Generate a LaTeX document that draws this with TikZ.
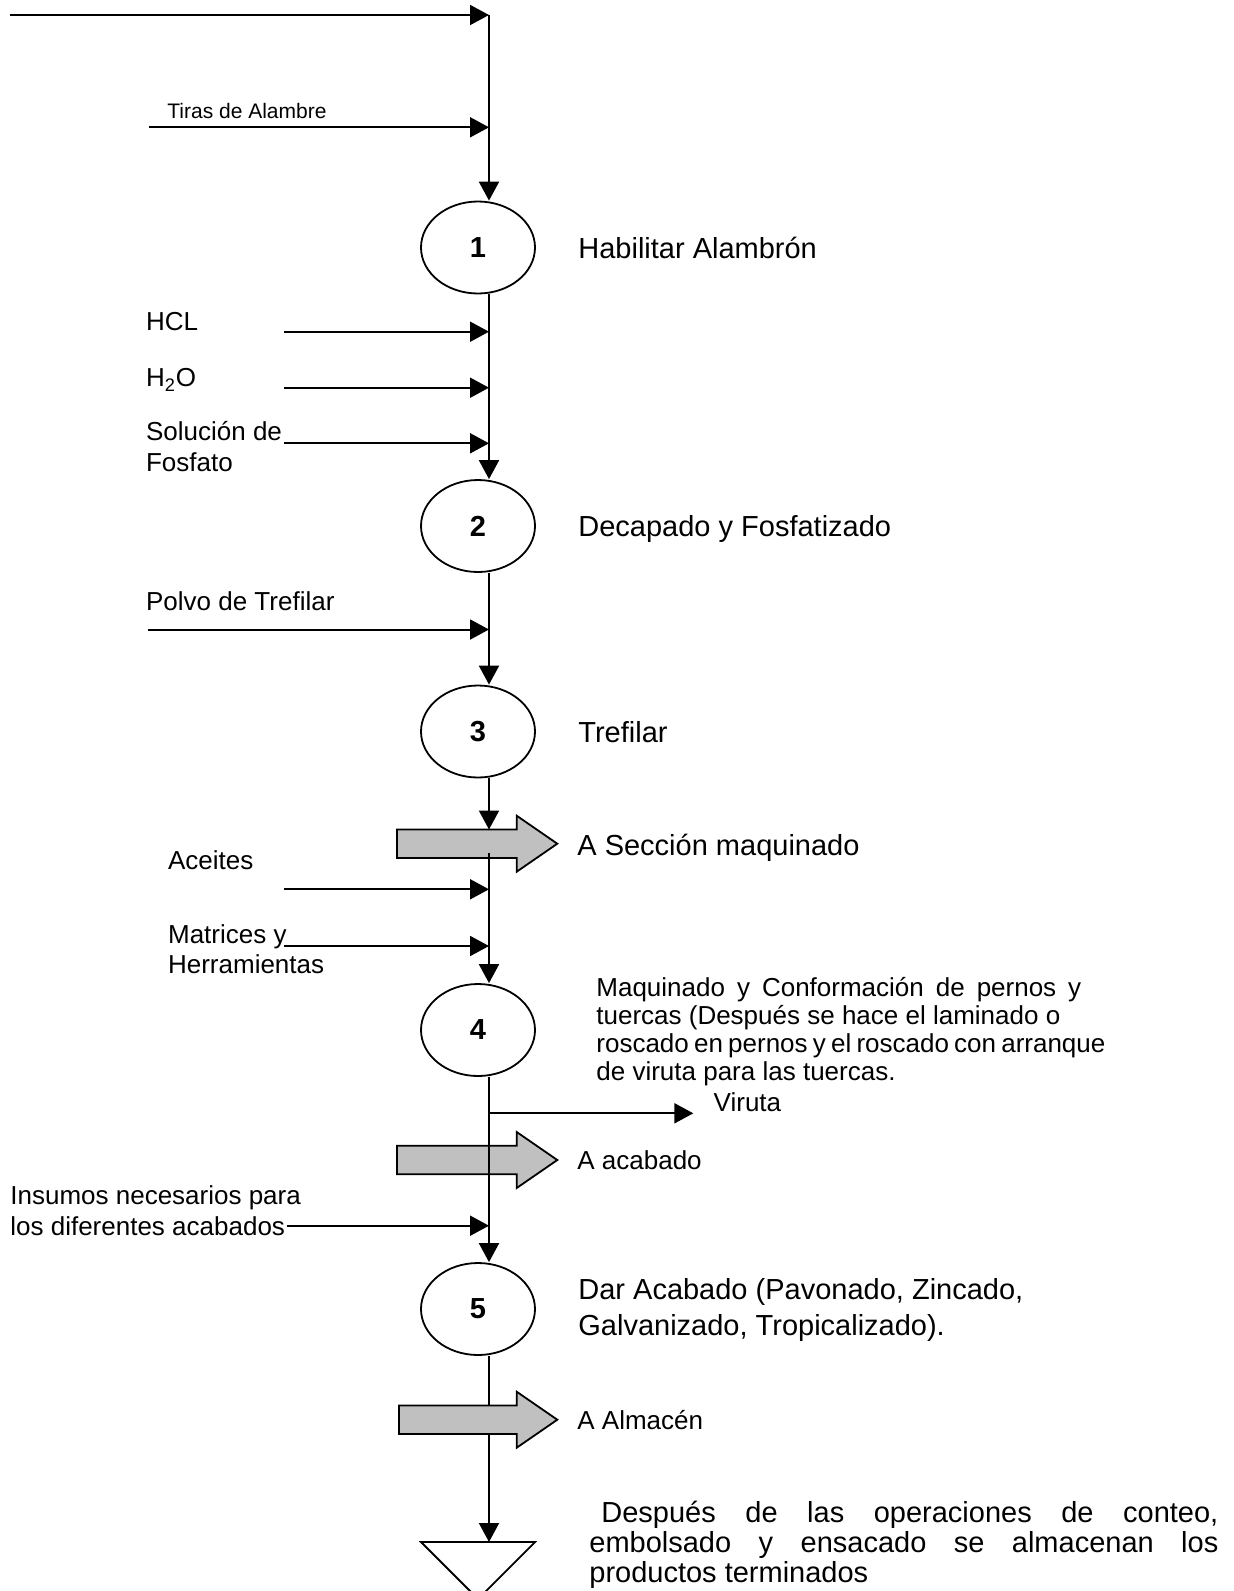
\documentclass[tikz,border=0pt]{standalone}
\usepackage{fontspec}
\setmainfont{Liberation Sans}
\usetikzlibrary{arrows.meta,shapes.geometric}
\definecolor{blockgray}{RGB}{192,192,192}

\tikzset{
  flow/.style={line width=1pt},
  arr/.style={-{Triangle[length=9.5pt,width=10pt]}},
  op/.style={draw, ellipse, line width=0.9pt, minimum width=57pt, minimum height=46pt,
             inner sep=0pt, font=\fontsize{14.5}{17}\selectfont\bfseries},
  bigtxt/.style={anchor=base west, inner sep=0pt, font=\fontsize{14.5}{17}\selectfont},
  midtxt/.style={anchor=base west, inner sep=0pt, font=\fontsize{13}{15}\selectfont},
  smalltxt/.style={anchor=base west, inner sep=0pt, font=\fontsize{10.5}{12}\selectfont},
  blockarrow/.style={draw, fill=blockgray, line width=0.9pt, line join=miter},
}

% grey transfer arrow: #1 = left edge, #2 = centre line
\newcommand{\transferarrow}[2]{%
  \draw[blockarrow] (#1,{#2-14.2}) -- (516.7,{#2-14.2}) -- (516.7,{#2-28}) -- (557.3,#2)
    -- (516.7,{#2+28}) -- (516.7,{#2+14.2}) -- (#1,{#2+14.2}) -- cycle;}

\begin{document}
\begin{tikzpicture}[x=0.5pt, y=-0.5pt]
\useasboundingbox (0,0) rectangle (1233,1591);

% ---- operations ----
\node[op] (e1) at (478,247.5) {1};
\node[op] (e2) at (478,526) {2};
\node[op] (e3) at (478,731.5) {3};
\node[op] (e4) at (478,1030) {4};
\node[op] (e5) at (478,1309) {5};

% ---- main line coordinates ----
\coordinate (s0) at (489,15);
\coordinate (in0) at (10,15);
\coordinate (b1in) at (489,829.5);
\coordinate (b1out) at (489,852.7);
\coordinate (vj) at (489,1113.3);
\coordinate (vt) at (693.3,1113.3);
\coordinate (tri) at (478,1542);

% ---- feeders ----
\coordinate (f1) at (148.5,127.3);
\coordinate (f2) at (284,331.7);
\coordinate (f3) at (284,387.7);
\coordinate (f4) at (284,443.3);
\coordinate (f5) at (148,629.5);
\coordinate (f6) at (284,889.3);
\coordinate (f7) at (284,946);
\coordinate (f8) at (286.7,1225.7);

% storage (inverted triangle)
\draw[line width=0.9pt] (421,1542) -- (535,1542) -- (478,1599) -- cycle;

% line behind the last transfer arrow
\draw[flow,arr] (s0 |- e5.south) -- (s0 |- tri);

% transfer arrows
\transferarrow{397}{843.7}
\transferarrow{397}{1160}
\transferarrow{399}{1419.7}

% ---- main flow ----
\draw[flow,arr] (in0) -- (s0);
\draw[flow,arr] (s0) -- (s0 |- e1.north);
\draw[flow,arr] (s0 |- e1.south) -- (s0 |- e2.north);
\draw[flow,arr] (s0 |- e2.south) -- (s0 |- e3.north);
\draw[flow,arr] (s0 |- e3.south) -- (b1in);
\draw[flow,arr] (b1out) -- (s0 |- e4.north);
\draw[flow,arr] (s0 |- e4.south) -- (s0 |- e5.north);
\draw[flow,arr] (vj) -- (vt);

\foreach \f in {f1,f2,f3,f4,f5,f6,f7,f8}
  \draw[flow,arr] (\f) -- (\f -| s0);

% ---- inputs ----
\node[smalltxt] (t1) at (167,118) {Tiras de Alambre};
\node[midtxt] (t2) at (145.7,330) {HCL};
\node[midtxt] (t3) at (145.7,386.7) {H\textsubscript{2}O};
\node[midtxt] (t4a) at (145.7,440) {Solución de};
\node[midtxt] (t4b) at (145.7,471.7) {Fosfato};
\node[midtxt] (t5) at (145.7,610) {Polvo de Trefilar};
\node[midtxt] (t6) at (167.7,869.3) {Aceites};
\node[midtxt] (t7a) at (167.7,943) {Matrices y};
\node[midtxt] (t7b) at (167.7,973) {Herramientas};
\node[midtxt] (t8a) at (10,1204) {Insumos necesarios para};
\node[midtxt] (t8b) at (10,1235) {los diferentes acabados};

% ---- descriptions ----
\node[bigtxt] (d1) at (578,258.3) {Habilitar Alambrón};
\node[bigtxt] (d2) at (578,536.5) {Decapado y Fosfatizado};
\node[bigtxt] (d3) at (578,742) {Trefilar};
\node[bigtxt] (a1) at (577,855) {A Sección maquinado};
\node[midtxt] (d4a) at (596,996.5) {\spaceskip=6pt\relax Maquinado y Conformación de pernos y};
\node[midtxt] (d4b) at (596,1024.5) {tuercas (Después se hace el laminado o};
\node[midtxt] (d4c) at (596,1052.5) {\spaceskip=2.6pt\relax roscado en pernos y el roscado con arranque};
\node[midtxt] (d4d) at (596,1080.5) {de viruta para las tuercas.};
\node[midtxt] (vl) at (713.3,1111.7) {Viruta};
\node[midtxt] (a2) at (577,1169) {A acabado};
\node[bigtxt] (d5a) at (578,1299) {Dar Acabado (Pavonado, Zincado,};
\node[bigtxt] (d5b) at (578,1335) {Galvanizado, Tropicalizado).};
\node[midtxt] (a3) at (577,1429) {A Almacén};
\node[anchor=base west, inner sep=0pt, font=\fontsize{14.5}{15.2}\selectfont] (d6) at (589,1522)
  {\parbox[t]{314.5pt}{\hspace*{6pt}Después de las operaciones de conteo,\linebreak
   embolsado y ensacado se almacenan los\linebreak productos terminados}};
\end{tikzpicture}
\end{document}
